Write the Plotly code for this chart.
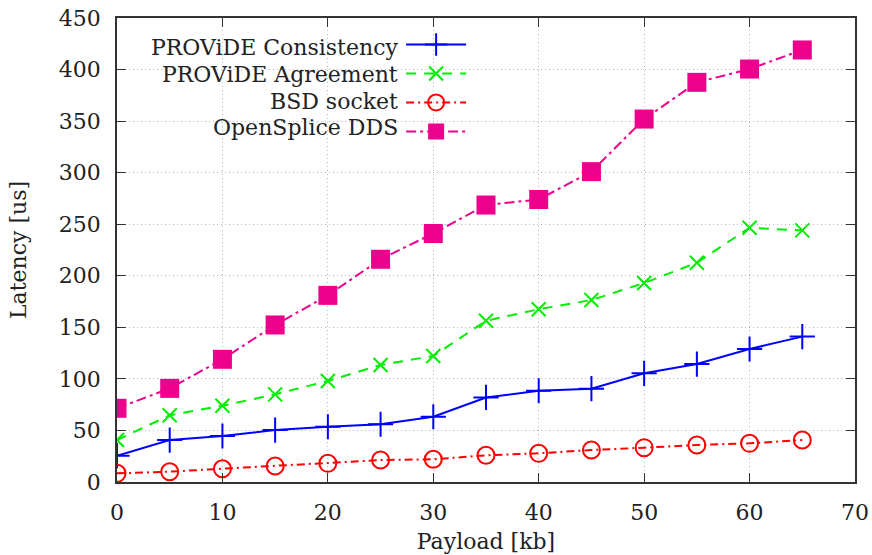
import plotly.graph_objects as go

payload = [0, 5, 10, 15, 20, 25, 30, 35, 40, 45, 50, 55, 60, 65]
consistency = [25.5, 40.7, 44.6, 50.4, 53.6, 56, 63.3, 82, 88.5, 90.5, 105.4, 114.4, 129, 141]
agreement = [40.7, 64.7, 74, 85, 98, 113.5, 122.2, 156.4, 167.5, 176.5, 193, 212.7, 246.5, 244]
bsd = [8.4, 10, 12.9, 15.5, 18.1, 21.3, 22, 25.9, 27.8, 31, 33.3, 35.9, 37.5, 40.7]
opensplice = [71.5, 90.8, 119, 152.3, 181, 216, 241, 268.6, 274, 301, 352, 387.6, 400.5, 419]

names = ["PROViDE Consistency", "PROViDE Agreement", "BSD socket", "OpenSplice DDS"]
x_ticks = [0, 10, 20, 30, 40, 50, 60, 70]
y_ticks = [0, 50, 100, 150, 200, 250, 300, 350, 400, 450]

FONT = "DejaVu Serif"
PINK = "#ec008c"

fig = go.Figure()
fig.add_trace(go.Scatter(
    x=payload, y=consistency, mode="lines+markers", name="",
    line=dict(color="#0000ff", width=2, dash="solid"),
    marker=dict(symbol="cross-thin-open", size=18, line=dict(color="#0000ff", width=2)),
))
fig.add_trace(go.Scatter(
    x=payload, y=agreement, mode="lines+markers", name="",
    line=dict(color="#00ee00", width=2, dash="10px,8px"),
    marker=dict(symbol="x-thin-open", size=14, line=dict(color="#00ee00", width=2)),
))
fig.add_trace(go.Scatter(
    x=payload, y=bsd, mode="lines+markers", name="",
    line=dict(color="#ff0000", width=2, dash="8px,4px,2px,4px"),
    marker=dict(symbol="circle-open", size=17, color="#ff0000", line=dict(color="#ff0000", width=2)),
))
fig.add_trace(go.Scatter(
    x=payload, y=opensplice, mode="lines+markers", name="",
    line=dict(color=PINK, width=2, dash="10px,4px,3px,4px"),
    marker=dict(symbol="square", size=19, color=PINK, line=dict(width=0)),
))

# legend labels (gnuplot-style: text right-aligned left of the samples)
row_y = [0.9375, 0.879, 0.821, 0.763]
for name, yy in zip(names, row_y):
    fig.add_annotation(x=0.3835, y=yy, xref="paper", yref="paper", text=name,
                       showarrow=False, xanchor="right", yanchor="middle",
                       font=dict(family=FONT, size=22, color="#222222"))

axis_common = dict(
    showline=True, linecolor="#333333", linewidth=1.5, mirror="ticks",
    ticks="inside", ticklen=9, tickwidth=1.2, tickcolor="#333333",
    showgrid=True, gridcolor="#b8b8b8", griddash="1px,3px", gridwidth=1,
    zeroline=False, automargin=False, ticklabelstandoff=10,
    ticklabeloverflow="allow",
    tickfont=dict(family=FONT, size=22, color="#222222"),
    title_font=dict(family=FONT, size=22, color="#222222"),
)
fig.update_xaxes(range=[0, 70], tickvals=x_ticks, title_text="Payload [kb]",
                 title_standoff=9, **axis_common)
fig.update_yaxes(range=[0, 450], tickvals=y_ticks, title_text="Latency [us]",
                 title_standoff=26, **axis_common)

fig.update_layout(
    width=872, height=555,
    margin=dict(l=117, r=17, t=18, b=73),
    plot_bgcolor="white", paper_bgcolor="white",
    showlegend=True,
    legend=dict(x=0.385, y=0.985, xanchor="left", yanchor="top",
                bgcolor="rgba(0,0,0,0)", font=dict(family=FONT, size=20),
                tracegroupgap=0, itemwidth=60),
)

# remove the default 8px page margin so the figure fills the window exactly
fig.write_html(
    "out.html",
    config={"displayModeBar": False},
    post_script="document.body.style.margin='0';document.body.style.overflow='hidden';",
)
